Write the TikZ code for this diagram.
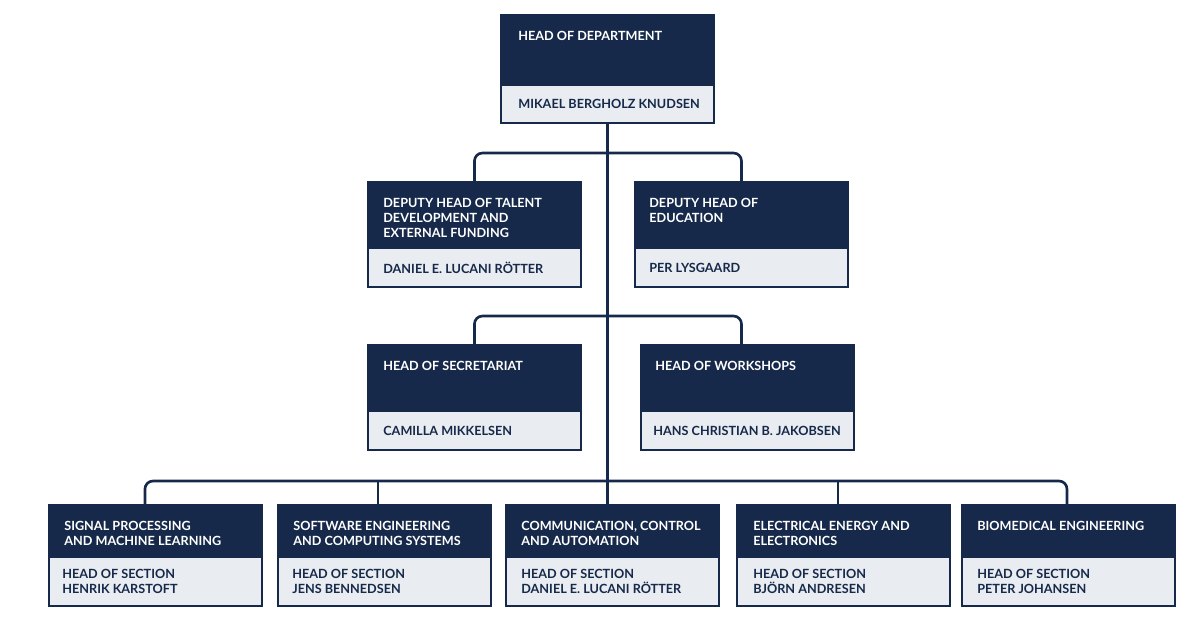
\documentclass[tikz,border=0pt]{standalone}
\usepackage{fontspec}
\setmainfont{Lato}
\usetikzlibrary{positioning}
\definecolor{navy}{HTML}{16294A}
\definecolor{pale}{HTML}{E9ECF0}
\tikzset{
  hd/.style={fill=navy,draw=navy,line width=1.1pt,inner sep=0pt,outer sep=0pt,
    minimum width=4.26cm,anchor=north west},
  nm/.style={fill=pale,draw=navy,line width=1.1pt,inner sep=0pt,outer sep=0pt,
    minimum width=4.26cm,anchor=north west},
  ttl/.style={anchor=north west,inner sep=0pt,text=white,align=left,
    font=\fontsize{7.2}{8.6}\selectfont\bfseries},
  who/.style={anchor=west,inner sep=0pt,text=navy,align=left,
    font=\fontsize{7.2}{8.9}\selectfont\bfseries},
  conn/.style={draw=navy,line width=1.5pt,rounded corners=0.16cm}
}
\begin{document}
\begin{tikzpicture}[x=0.02cm,y=-0.02cm]
\useasboundingbox (0,0) rectangle (1200,630);

% head of department
\node [hd,minimum height=1.4cm] (dep) at (501,15) {};
\node [nm,minimum height=0.76cm] (depn) at (dep.south west) {};
\node [ttl] (dept) at ([xshift=0.34cm,yshift=-0.32cm]dep.north west) {HEAD OF DEPARTMENT};
\node [who] (depw) at ([xshift=0.34cm]depn.west) {MIKAEL BERGHOLZ KNUDSEN};

% deputies
\node [hd,minimum height=1.32cm] (tal) at (368,182) {};
\node [nm,minimum height=0.78cm] (taln) at (tal.south west) {};
\node [ttl] (talt) at ([xshift=0.3cm,yshift=-0.32cm]tal.north west) {DEPUTY HEAD OF TALENT\\DEVELOPMENT AND\\EXTERNAL FUNDING};
\node [who] (talw) at ([xshift=0.3cm]taln.west) {DANIEL E. LUCANI RÖTTER};

\node [hd,minimum height=1.32cm] (edu) at (635,182) {};
\node [nm,minimum height=0.78cm] (edun) at (edu.south west) {};
\node [ttl] (edut) at ([xshift=0.28cm,yshift=-0.32cm]edu.north west) {DEPUTY HEAD OF\\EDUCATION};
\node [who] (eduw) at ([xshift=0.28cm]edun.west) {PER LYSGAARD};

% secretariat and workshops
\node [hd,minimum height=1.32cm] (sec) at (368,345) {};
\node [nm,minimum height=0.78cm] (secn) at (sec.south west) {};
\node [ttl] (sect) at ([xshift=0.3cm,yshift=-0.32cm]sec.north west) {HEAD OF SECRETARIAT};
\node [who] (secw) at ([xshift=0.3cm]secn.west) {CAMILLA MIKKELSEN};

\node [hd,minimum height=1.32cm] (wsh) at (641,345) {};
\node [nm,minimum height=0.78cm] (wshn) at (wsh.south west) {};
\node [ttl] (wsht) at ([xshift=0.28cm,yshift=-0.32cm]wsh.north west) {HEAD OF WORKSHOPS};
\node [who] (wshw) at ([xshift=0.24cm]wshn.west) {HANS CHRISTIAN B. JAKOBSEN};

% sections
\node [hd,minimum height=1.04cm] (spm) at (49,505) {};
\node [nm,minimum height=0.98cm] (spmn) at (spm.south west) {};
\node [ttl] (spmt) at ([xshift=0.3cm,yshift=-0.32cm]spm.north west) {SIGNAL PROCESSING\\AND MACHINE LEARNING};
\node [who] (spmw) at ([xshift=0.26cm]spmn.west) {HEAD OF SECTION\\HENRIK KARSTOFT};

\node [hd,minimum height=1.04cm] (sce) at (278,505) {};
\node [nm,minimum height=0.98cm] (scen) at (sce.south west) {};
\node [ttl] (scet) at ([xshift=0.3cm,yshift=-0.32cm]sce.north west) {SOFTWARE ENGINEERING\\AND COMPUTING SYSTEMS};
\node [who] (scew) at ([xshift=0.28cm]scen.west) {HEAD OF SECTION\\JENS BENNEDSEN};

\node [hd,minimum height=1.04cm] (cca) at (506,505) {};
\node [nm,minimum height=0.98cm] (ccan) at (cca.south west) {};
\node [ttl] (ccat) at ([xshift=0.3cm,yshift=-0.32cm]cca.north west) {COMMUNICATION, CONTROL\\AND AUTOMATION};
\node [who] (ccaw) at ([xshift=0.3cm]ccan.west) {HEAD OF SECTION\\DANIEL E. LUCANI RÖTTER};

\node [hd,minimum height=1.04cm] (eee) at (737,505) {};
\node [nm,minimum height=0.98cm] (eeen) at (eee.south west) {};
\node [ttl] (eeet) at ([xshift=0.32cm,yshift=-0.32cm]eee.north west) {ELECTRICAL ENERGY AND\\ELECTRONICS};
\node [who] (eeew) at ([xshift=0.32cm]eeen.west) {HEAD OF SECTION\\BJÖRN ANDRESEN};

\node [hd,minimum height=1.04cm] (bme) at (962,505) {};
\node [nm,minimum height=0.98cm] (bmen) at (bme.south west) {};
\node [ttl] (bmet) at ([xshift=0.3cm,yshift=-0.32cm]bme.north west) {BIOMEDICAL ENGINEERING};
\node [who] (bmew) at ([xshift=0.3cm]bmen.west) {HEAD OF SECTION\\PETER JOHANSEN};

% connectors
\coordinate (b2) at (607,153);
\coordinate (b3) at (607,316);
\coordinate (b4) at (607,481);
\draw [conn] (depn.south) -- (depn.south |- cca.north);
\draw [conn] (tal.north) |- (b2) -| (edu.north);
\draw [conn] (sec.north) |- (b3) -| ([xshift=-0.12cm]wsh.north);
\draw [conn] ([xshift=-0.21cm]spm.north) |- (b4) -| ([xshift=-0.03cm]bme.north);
\draw [conn] ([xshift=-0.13cm]sce.north) -- ([xshift=-0.13cm]sce.north |- b4);
\draw [conn] ([xshift=-0.11cm]eee.north) -- ([xshift=-0.11cm]eee.north |- b4);

\end{tikzpicture}
\end{document}
